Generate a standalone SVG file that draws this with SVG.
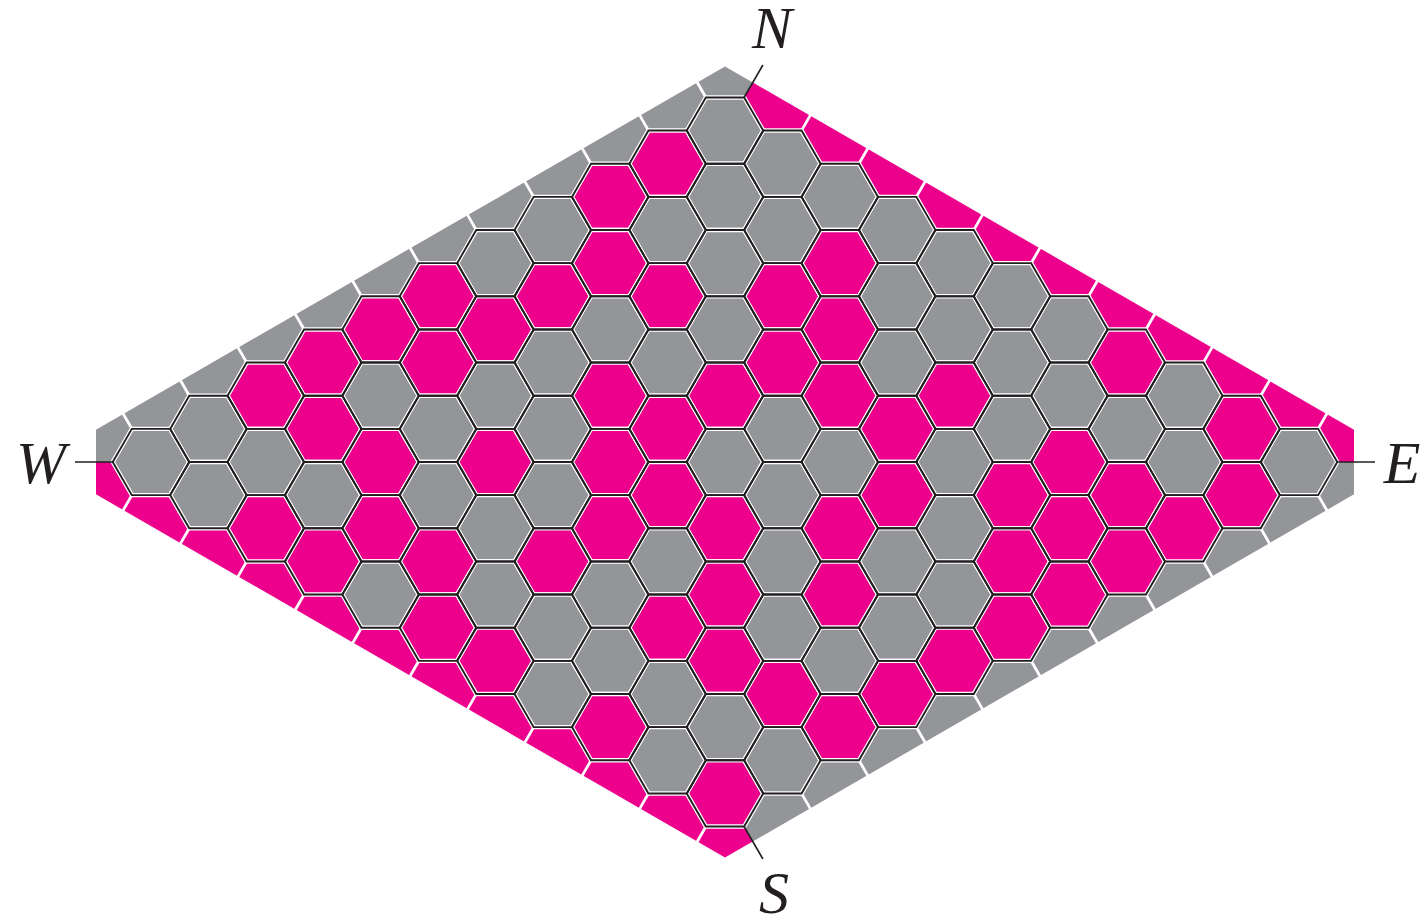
<svg xmlns="http://www.w3.org/2000/svg" xmlns:xlink="http://www.w3.org/1999/xlink" width="1424" height="919" viewBox="0 0 1424 919">
<style>
.g{fill:#939598}
.m{fill:#EC008C}
.gap{stroke:#ffffff;stroke-width:2.8}
.tick{stroke:#231F20;stroke-width:1.6;fill:none}
.lbl{font-family:"Liberation Serif","DejaVu Serif",serif;font-style:italic;font-size:60px;fill:#231F20;text-anchor:middle}
</style>
<defs>
<path id="hx" d="M38.27,0 L19.135,33.14 L-19.135,33.14 L-38.27,0 L-19.135,-33.14 L19.135,-33.14Z" stroke="#ffffff" stroke-width="4.4"/>
<path id="ho" d="M38.27,0 L19.135,33.14 L-19.135,33.14 L-38.27,0 L-19.135,-33.14 L19.135,-33.14Z" fill="none" stroke="#231F20" stroke-width="1.9"/>
<line id="gnw" x1="-19.1" y1="-33.1" x2="-31.6" y2="-54.8"/>
<line id="gne" x1="19.1" y1="-33.1" x2="31.6" y2="-54.8"/>
<line id="gse" x1="19.1" y1="33.1" x2="31.6" y2="54.8"/>
<line id="gsw" x1="-19.1" y1="33.1" x2="-31.6" y2="54.8"/>
</defs>
<rect width="1424" height="919" fill="#ffffff"/>
<g id="border">
<polygon class="g" points="96,462 96,429.65 725,66.5 752.76,82.53 744.1,97.5 725,462"/>
<polygon class="m" points="752.76,82.53 1354,429.65 1354,462 725,462 744.1,97.5"/>
<polygon class="g" points="1354,462 1354,494.35 752.76,841.47 744.1,826.5 725,462"/>
<polygon class="m" points="96,462 725,462 744.1,826.5 752.76,841.47 725,857.5 96,494.35"/>
</g>
<g id="gaps" class="gap">
<use href="#gnw" x="151" y="462"/><use href="#gnw" x="208.4" y="428.9"/><use href="#gnw" x="265.8" y="395.7"/><use href="#gnw" x="323.2" y="362.6"/><use href="#gnw" x="380.6" y="329.4"/><use href="#gnw" x="438" y="296.3"/><use href="#gnw" x="495.4" y="263.2"/><use href="#gnw" x="552.8" y="230"/><use href="#gnw" x="610.2" y="196.9"/><use href="#gnw" x="667.6" y="163.7"/><use href="#gnw" x="725" y="130.6"/>
<use href="#gne" x="782.4" y="163.7"/><use href="#gne" x="839.8" y="196.9"/><use href="#gne" x="897.2" y="230"/><use href="#gne" x="954.6" y="263.2"/><use href="#gne" x="1012" y="296.3"/><use href="#gne" x="1069.4" y="329.4"/><use href="#gne" x="1126.8" y="362.6"/><use href="#gne" x="1184.2" y="395.7"/><use href="#gne" x="1241.6" y="428.9"/><use href="#gne" x="1299" y="462"/>
<use href="#gse" x="782.4" y="760.3"/><use href="#gse" x="839.8" y="727.1"/><use href="#gse" x="897.2" y="694"/><use href="#gse" x="954.6" y="660.8"/><use href="#gse" x="1012" y="627.7"/><use href="#gse" x="1069.4" y="594.6"/><use href="#gse" x="1126.8" y="561.4"/><use href="#gse" x="1184.2" y="528.3"/><use href="#gse" x="1241.6" y="495.1"/><use href="#gse" x="1299" y="462"/>
<use href="#gsw" x="151" y="462"/><use href="#gsw" x="208.4" y="495.1"/><use href="#gsw" x="265.8" y="528.3"/><use href="#gsw" x="323.2" y="561.4"/><use href="#gsw" x="380.6" y="594.6"/><use href="#gsw" x="438" y="627.7"/><use href="#gsw" x="495.4" y="660.8"/><use href="#gsw" x="552.8" y="694"/><use href="#gsw" x="610.2" y="727.1"/><use href="#gsw" x="667.6" y="760.3"/><use href="#gsw" x="725" y="793.4"/>
</g>
<g id="cells">
<use id="h0_0" class="g" href="#hx" x="151" y="462"/>
<use id="h1_m1" class="g" href="#hx" x="208.4" y="428.9"/><use id="h1_1" class="g" href="#hx" x="208.4" y="495.1"/>
<use id="h2_m2" class="m" href="#hx" x="265.8" y="395.7"/><use id="h2_0" class="g" href="#hx" x="265.8" y="462"/><use id="h2_2" class="m" href="#hx" x="265.8" y="528.3"/>
<use id="h3_m3" class="m" href="#hx" x="323.2" y="362.6"/><use id="h3_m1" class="m" href="#hx" x="323.2" y="428.9"/><use id="h3_1" class="g" href="#hx" x="323.2" y="495.1"/><use id="h3_3" class="m" href="#hx" x="323.2" y="561.4"/>
<use id="h4_m4" class="m" href="#hx" x="380.6" y="329.4"/><use id="h4_m2" class="g" href="#hx" x="380.6" y="395.7"/><use id="h4_0" class="m" href="#hx" x="380.6" y="462"/><use id="h4_2" class="m" href="#hx" x="380.6" y="528.3"/><use id="h4_4" class="g" href="#hx" x="380.6" y="594.6"/>
<use id="h5_m5" class="m" href="#hx" x="438" y="296.3"/><use id="h5_m3" class="m" href="#hx" x="438" y="362.6"/><use id="h5_m1" class="g" href="#hx" x="438" y="428.9"/><use id="h5_1" class="g" href="#hx" x="438" y="495.1"/><use id="h5_3" class="m" href="#hx" x="438" y="561.4"/><use id="h5_5" class="m" href="#hx" x="438" y="627.7"/>
<use id="h6_m6" class="g" href="#hx" x="495.4" y="263.2"/><use id="h6_m4" class="m" href="#hx" x="495.4" y="329.4"/><use id="h6_m2" class="g" href="#hx" x="495.4" y="395.7"/><use id="h6_0" class="m" href="#hx" x="495.4" y="462"/><use id="h6_2" class="g" href="#hx" x="495.4" y="528.3"/><use id="h6_4" class="g" href="#hx" x="495.4" y="594.6"/><use id="h6_6" class="m" href="#hx" x="495.4" y="660.8"/>
<use id="h7_m7" class="g" href="#hx" x="552.8" y="230"/><use id="h7_m5" class="m" href="#hx" x="552.8" y="296.3"/><use id="h7_m3" class="g" href="#hx" x="552.8" y="362.6"/><use id="h7_m1" class="g" href="#hx" x="552.8" y="428.9"/><use id="h7_1" class="g" href="#hx" x="552.8" y="495.1"/><use id="h7_3" class="m" href="#hx" x="552.8" y="561.4"/><use id="h7_5" class="g" href="#hx" x="552.8" y="627.7"/><use id="h7_7" class="g" href="#hx" x="552.8" y="694"/>
<use id="h8_m8" class="m" href="#hx" x="610.2" y="196.9"/><use id="h8_m6" class="m" href="#hx" x="610.2" y="263.2"/><use id="h8_m4" class="g" href="#hx" x="610.2" y="329.4"/><use id="h8_m2" class="m" href="#hx" x="610.2" y="395.7"/><use id="h8_0" class="m" href="#hx" x="610.2" y="462"/><use id="h8_2" class="m" href="#hx" x="610.2" y="528.3"/><use id="h8_4" class="g" href="#hx" x="610.2" y="594.6"/><use id="h8_6" class="g" href="#hx" x="610.2" y="660.8"/><use id="h8_8" class="m" href="#hx" x="610.2" y="727.1"/>
<use id="h9_m9" class="m" href="#hx" x="667.6" y="163.7"/><use id="h9_m7" class="g" href="#hx" x="667.6" y="230"/><use id="h9_m5" class="m" href="#hx" x="667.6" y="296.3"/><use id="h9_m3" class="g" href="#hx" x="667.6" y="362.6"/><use id="h9_m1" class="m" href="#hx" x="667.6" y="428.9"/><use id="h9_1" class="m" href="#hx" x="667.6" y="495.1"/><use id="h9_3" class="g" href="#hx" x="667.6" y="561.4"/><use id="h9_5" class="m" href="#hx" x="667.6" y="627.7"/><use id="h9_7" class="g" href="#hx" x="667.6" y="694"/><use id="h9_9" class="g" href="#hx" x="667.6" y="760.3"/>
<use id="h10_m10" class="g" href="#hx" x="725" y="130.6"/><use id="h10_m8" class="g" href="#hx" x="725" y="196.9"/><use id="h10_m6" class="g" href="#hx" x="725" y="263.2"/><use id="h10_m4" class="g" href="#hx" x="725" y="329.4"/><use id="h10_m2" class="m" href="#hx" x="725" y="395.7"/><use id="h10_0" class="g" href="#hx" x="725" y="462"/><use id="h10_2" class="m" href="#hx" x="725" y="528.3"/><use id="h10_4" class="m" href="#hx" x="725" y="594.6"/><use id="h10_6" class="m" href="#hx" x="725" y="660.8"/><use id="h10_8" class="g" href="#hx" x="725" y="727.1"/><use id="h10_10" class="m" href="#hx" x="725" y="793.4"/>
<use id="h11_m9" class="g" href="#hx" x="782.4" y="163.7"/><use id="h11_m7" class="g" href="#hx" x="782.4" y="230"/><use id="h11_m5" class="m" href="#hx" x="782.4" y="296.3"/><use id="h11_m3" class="m" href="#hx" x="782.4" y="362.6"/><use id="h11_m1" class="g" href="#hx" x="782.4" y="428.9"/><use id="h11_1" class="g" href="#hx" x="782.4" y="495.1"/><use id="h11_3" class="g" href="#hx" x="782.4" y="561.4"/><use id="h11_5" class="g" href="#hx" x="782.4" y="627.7"/><use id="h11_7" class="m" href="#hx" x="782.4" y="694"/><use id="h11_9" class="g" href="#hx" x="782.4" y="760.3"/>
<use id="h12_m8" class="g" href="#hx" x="839.8" y="196.9"/><use id="h12_m6" class="m" href="#hx" x="839.8" y="263.2"/><use id="h12_m4" class="m" href="#hx" x="839.8" y="329.4"/><use id="h12_m2" class="m" href="#hx" x="839.8" y="395.7"/><use id="h12_0" class="g" href="#hx" x="839.8" y="462"/><use id="h12_2" class="m" href="#hx" x="839.8" y="528.3"/><use id="h12_4" class="m" href="#hx" x="839.8" y="594.6"/><use id="h12_6" class="g" href="#hx" x="839.8" y="660.8"/><use id="h12_8" class="m" href="#hx" x="839.8" y="727.1"/>
<use id="h13_m7" class="g" href="#hx" x="897.2" y="230"/><use id="h13_m5" class="g" href="#hx" x="897.2" y="296.3"/><use id="h13_m3" class="g" href="#hx" x="897.2" y="362.6"/><use id="h13_m1" class="m" href="#hx" x="897.2" y="428.9"/><use id="h13_1" class="m" href="#hx" x="897.2" y="495.1"/><use id="h13_3" class="g" href="#hx" x="897.2" y="561.4"/><use id="h13_5" class="g" href="#hx" x="897.2" y="627.7"/><use id="h13_7" class="m" href="#hx" x="897.2" y="694"/>
<use id="h14_m6" class="g" href="#hx" x="954.6" y="263.2"/><use id="h14_m4" class="g" href="#hx" x="954.6" y="329.4"/><use id="h14_m2" class="m" href="#hx" x="954.6" y="395.7"/><use id="h14_0" class="g" href="#hx" x="954.6" y="462"/><use id="h14_2" class="g" href="#hx" x="954.6" y="528.3"/><use id="h14_4" class="g" href="#hx" x="954.6" y="594.6"/><use id="h14_6" class="m" href="#hx" x="954.6" y="660.8"/>
<use id="h15_m5" class="g" href="#hx" x="1012" y="296.3"/><use id="h15_m3" class="g" href="#hx" x="1012" y="362.6"/><use id="h15_m1" class="g" href="#hx" x="1012" y="428.9"/><use id="h15_1" class="m" href="#hx" x="1012" y="495.1"/><use id="h15_3" class="m" href="#hx" x="1012" y="561.4"/><use id="h15_5" class="m" href="#hx" x="1012" y="627.7"/>
<use id="h16_m4" class="g" href="#hx" x="1069.4" y="329.4"/><use id="h16_m2" class="g" href="#hx" x="1069.4" y="395.7"/><use id="h16_0" class="m" href="#hx" x="1069.4" y="462"/><use id="h16_2" class="m" href="#hx" x="1069.4" y="528.3"/><use id="h16_4" class="m" href="#hx" x="1069.4" y="594.6"/>
<use id="h17_m3" class="m" href="#hx" x="1126.8" y="362.6"/><use id="h17_m1" class="g" href="#hx" x="1126.8" y="428.9"/><use id="h17_1" class="m" href="#hx" x="1126.8" y="495.1"/><use id="h17_3" class="m" href="#hx" x="1126.8" y="561.4"/>
<use id="h18_m2" class="g" href="#hx" x="1184.2" y="395.7"/><use id="h18_0" class="g" href="#hx" x="1184.2" y="462"/><use id="h18_2" class="m" href="#hx" x="1184.2" y="528.3"/>
<use id="h19_m1" class="m" href="#hx" x="1241.6" y="428.9"/><use id="h19_1" class="m" href="#hx" x="1241.6" y="495.1"/>
<use id="h20_0" class="g" href="#hx" x="1299" y="462"/>
</g>
<g id="outlines">
<use href="#ho" x="151" y="462"/>
<use href="#ho" x="208.4" y="428.9"/><use href="#ho" x="208.4" y="495.1"/>
<use href="#ho" x="265.8" y="395.7"/><use href="#ho" x="265.8" y="462"/><use href="#ho" x="265.8" y="528.3"/>
<use href="#ho" x="323.2" y="362.6"/><use href="#ho" x="323.2" y="428.9"/><use href="#ho" x="323.2" y="495.1"/><use href="#ho" x="323.2" y="561.4"/>
<use href="#ho" x="380.6" y="329.4"/><use href="#ho" x="380.6" y="395.7"/><use href="#ho" x="380.6" y="462"/><use href="#ho" x="380.6" y="528.3"/><use href="#ho" x="380.6" y="594.6"/>
<use href="#ho" x="438" y="296.3"/><use href="#ho" x="438" y="362.6"/><use href="#ho" x="438" y="428.9"/><use href="#ho" x="438" y="495.1"/><use href="#ho" x="438" y="561.4"/><use href="#ho" x="438" y="627.7"/>
<use href="#ho" x="495.4" y="263.2"/><use href="#ho" x="495.4" y="329.4"/><use href="#ho" x="495.4" y="395.7"/><use href="#ho" x="495.4" y="462"/><use href="#ho" x="495.4" y="528.3"/><use href="#ho" x="495.4" y="594.6"/><use href="#ho" x="495.4" y="660.8"/>
<use href="#ho" x="552.8" y="230"/><use href="#ho" x="552.8" y="296.3"/><use href="#ho" x="552.8" y="362.6"/><use href="#ho" x="552.8" y="428.9"/><use href="#ho" x="552.8" y="495.1"/><use href="#ho" x="552.8" y="561.4"/><use href="#ho" x="552.8" y="627.7"/><use href="#ho" x="552.8" y="694"/>
<use href="#ho" x="610.2" y="196.9"/><use href="#ho" x="610.2" y="263.2"/><use href="#ho" x="610.2" y="329.4"/><use href="#ho" x="610.2" y="395.7"/><use href="#ho" x="610.2" y="462"/><use href="#ho" x="610.2" y="528.3"/><use href="#ho" x="610.2" y="594.6"/><use href="#ho" x="610.2" y="660.8"/><use href="#ho" x="610.2" y="727.1"/>
<use href="#ho" x="667.6" y="163.7"/><use href="#ho" x="667.6" y="230"/><use href="#ho" x="667.6" y="296.3"/><use href="#ho" x="667.6" y="362.6"/><use href="#ho" x="667.6" y="428.9"/><use href="#ho" x="667.6" y="495.1"/><use href="#ho" x="667.6" y="561.4"/><use href="#ho" x="667.6" y="627.7"/><use href="#ho" x="667.6" y="694"/><use href="#ho" x="667.6" y="760.3"/>
<use href="#ho" x="725" y="130.6"/><use href="#ho" x="725" y="196.9"/><use href="#ho" x="725" y="263.2"/><use href="#ho" x="725" y="329.4"/><use href="#ho" x="725" y="395.7"/><use href="#ho" x="725" y="462"/><use href="#ho" x="725" y="528.3"/><use href="#ho" x="725" y="594.6"/><use href="#ho" x="725" y="660.8"/><use href="#ho" x="725" y="727.1"/><use href="#ho" x="725" y="793.4"/>
<use href="#ho" x="782.4" y="163.7"/><use href="#ho" x="782.4" y="230"/><use href="#ho" x="782.4" y="296.3"/><use href="#ho" x="782.4" y="362.6"/><use href="#ho" x="782.4" y="428.9"/><use href="#ho" x="782.4" y="495.1"/><use href="#ho" x="782.4" y="561.4"/><use href="#ho" x="782.4" y="627.7"/><use href="#ho" x="782.4" y="694"/><use href="#ho" x="782.4" y="760.3"/>
<use href="#ho" x="839.8" y="196.9"/><use href="#ho" x="839.8" y="263.2"/><use href="#ho" x="839.8" y="329.4"/><use href="#ho" x="839.8" y="395.7"/><use href="#ho" x="839.8" y="462"/><use href="#ho" x="839.8" y="528.3"/><use href="#ho" x="839.8" y="594.6"/><use href="#ho" x="839.8" y="660.8"/><use href="#ho" x="839.8" y="727.1"/>
<use href="#ho" x="897.2" y="230"/><use href="#ho" x="897.2" y="296.3"/><use href="#ho" x="897.2" y="362.6"/><use href="#ho" x="897.2" y="428.9"/><use href="#ho" x="897.2" y="495.1"/><use href="#ho" x="897.2" y="561.4"/><use href="#ho" x="897.2" y="627.7"/><use href="#ho" x="897.2" y="694"/>
<use href="#ho" x="954.6" y="263.2"/><use href="#ho" x="954.6" y="329.4"/><use href="#ho" x="954.6" y="395.7"/><use href="#ho" x="954.6" y="462"/><use href="#ho" x="954.6" y="528.3"/><use href="#ho" x="954.6" y="594.6"/><use href="#ho" x="954.6" y="660.8"/>
<use href="#ho" x="1012" y="296.3"/><use href="#ho" x="1012" y="362.6"/><use href="#ho" x="1012" y="428.9"/><use href="#ho" x="1012" y="495.1"/><use href="#ho" x="1012" y="561.4"/><use href="#ho" x="1012" y="627.7"/>
<use href="#ho" x="1069.4" y="329.4"/><use href="#ho" x="1069.4" y="395.7"/><use href="#ho" x="1069.4" y="462"/><use href="#ho" x="1069.4" y="528.3"/><use href="#ho" x="1069.4" y="594.6"/>
<use href="#ho" x="1126.8" y="362.6"/><use href="#ho" x="1126.8" y="428.9"/><use href="#ho" x="1126.8" y="495.1"/><use href="#ho" x="1126.8" y="561.4"/>
<use href="#ho" x="1184.2" y="395.7"/><use href="#ho" x="1184.2" y="462"/><use href="#ho" x="1184.2" y="528.3"/>
<use href="#ho" x="1241.6" y="428.9"/><use href="#ho" x="1241.6" y="495.1"/>
<use href="#ho" x="1299" y="462"/>
</g>
<g id="ticks" class="tick">
<line x1="744.1" y1="97.5" x2="762.9" y2="65"/>
<line x1="744.1" y1="826.5" x2="762.9" y2="859"/>
<line x1="112.7" y1="462" x2="75" y2="462"/>
<line x1="1337.3" y1="462" x2="1375" y2="462"/>
</g>
<g id="labels">
<text id="lN" class="lbl" x="772" y="48">N</text>
<text id="lS" class="lbl" x="774" y="913">S</text>
<text id="lW" class="lbl" x="41" y="483">W</text>
<text id="lE" class="lbl" x="1402" y="483">E</text>
</g>
</svg>
